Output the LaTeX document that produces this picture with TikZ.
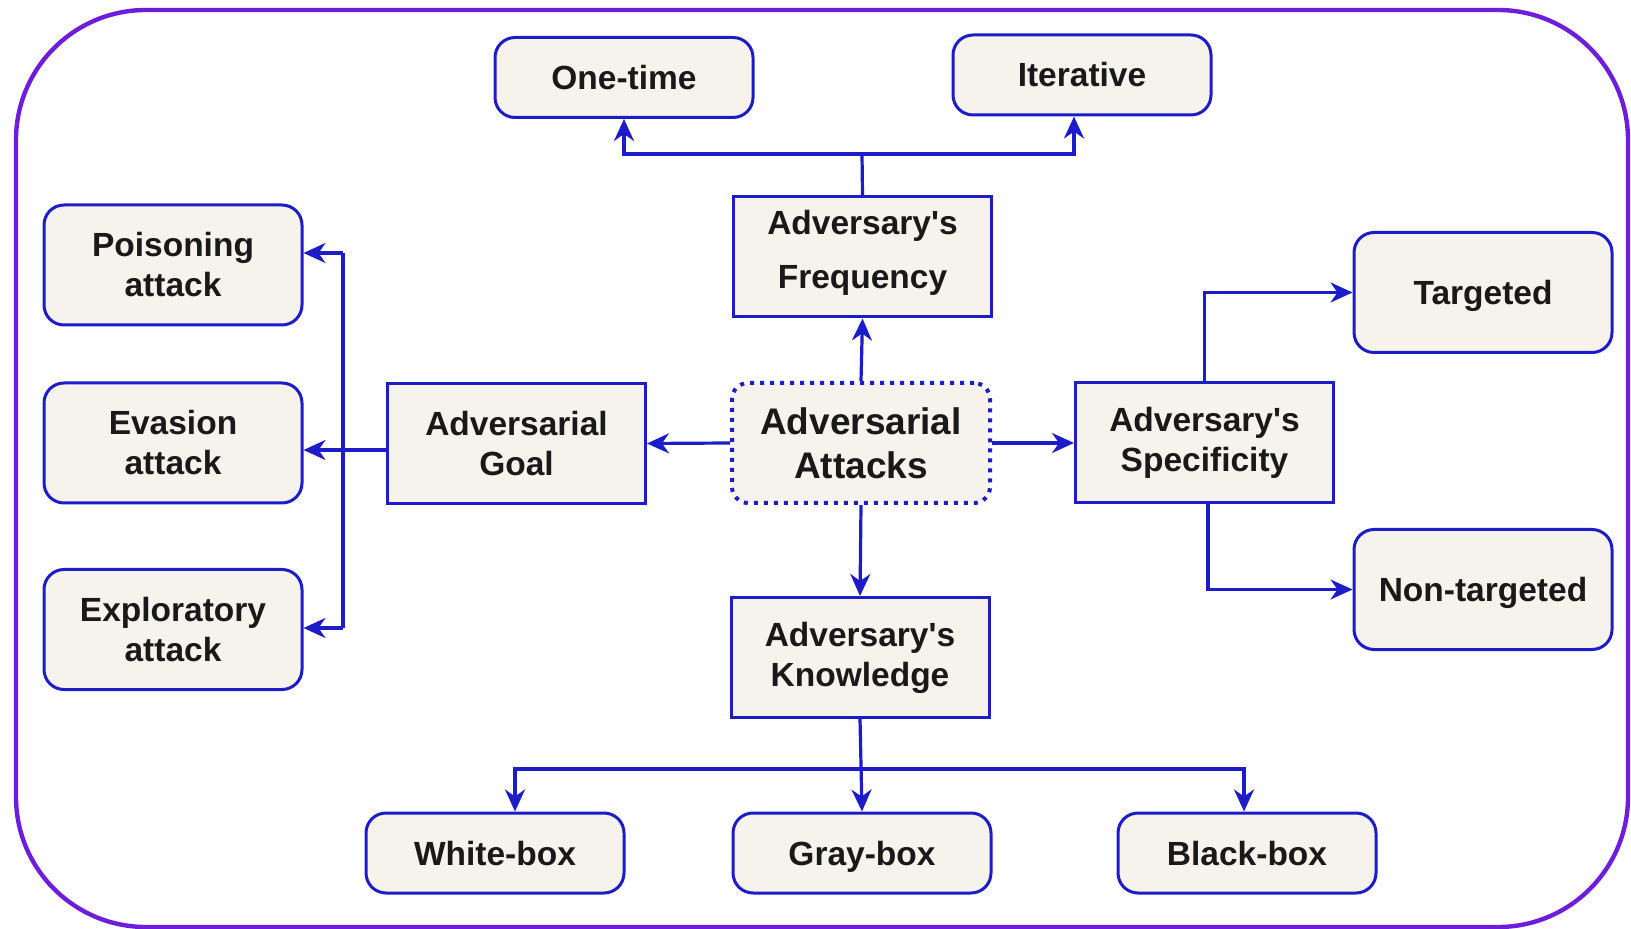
\documentclass[tikz,border=0pt]{standalone}
\usepackage{fontspec}
\setmainfont{Liberation Sans}
\usetikzlibrary{arrows.meta}
\definecolor{framecol}{RGB}{110,30,218}
\definecolor{edgecol}{RGB}{28,28,200}
\definecolor{boxfill}{RGB}{245,243,235}
\newcommand{\apos}{\textquotesingle}
\begin{document}
\begin{tikzpicture}[x=0.5pt,y=-0.5pt,
  base/.style={draw=edgecol, line width=1.5pt, fill=boxfill, align=center,
    font=\bfseries\fontsize{16.75}{20}\selectfont, text=black!90,
    inner sep=0pt, minimum width=129pt},
  big/.style={minimum height=60pt},
  small/.style={minimum height=40pt},
  oneline/.style={text height=12pt, text depth=0pt},
  rbox/.style={base, rounded corners=10pt},
  sbox/.style={base},
  hub/.style={base, rounded corners=8pt, line width=2pt, dash pattern=on 2pt off 3pt,
    font=\bfseries\fontsize{18.5}{22}\selectfont},
  caption/.style={align=center, font=\bfseries\fontsize{16.75}{27}\selectfont,
    text=black!90, inner sep=0pt},
  link/.style={draw=edgecol, line width=1.6pt},
  arr/.style={link, -{Stealth[length=11pt,width=10pt,inset=3.5pt]}}
]
\useasboundingbox (0,0) rectangle (1631,929);

% outer frame
\draw[framecol, line width=2.2pt, rounded corners=65pt] (16,10) rectangle (1628,927);

% central node
\node[hub, big] (attacks) at (861,443) {Adversarial\\Attacks};

% categories
\node[sbox, big] (freq) at (862.5,257) {};
\node[caption] (freqtext) at ([yshift=2pt]freq.center) {Adversary\apos s\\Frequency};
\node[sbox, big] (goal) at (516.5,443.5) {Adversarial\\Goal};
\node[sbox, big] (spec) at (1204.5,443) {Adversary\apos s\\Specificity};
\node[sbox, big] (know) at (860,657.5) {Adversary\apos s\\Knowledge};

% frequency leaves
\node[rbox, small, oneline] (once) at (624,77.5) {One-time};
\node[rbox, small, oneline] (iter) at (1082,75) {Iterative};

% goal leaves
\node[rbox, big] (poison) at (173,265) {Poisoning\\attack};
\node[rbox, big] (evasion) at (173,443) {Evasion\\attack};
\node[rbox, big] (explore) at (173,629.5) {Exploratory\\attack};

% specificity leaves
\node[rbox, big, oneline] (targ) at (1483,292.5) {Targeted};
\node[rbox, big, oneline] (nontarg) at (1483,589.5) {Non-targeted};

% knowledge leaves
\node[rbox, small, oneline] (white) at (495,853) {White-box};
\node[rbox, small, oneline] (gray) at (862,853) {Gray-box};
\node[rbox, small, oneline] (black) at (1247,853) {Black-box};

% hub to categories
\draw[arr] (attacks.north) -- (freq.south);
\draw[arr] (attacks.west) -- (goal.east);
\draw[arr] (attacks.east) -- (attacks.east -| spec.west);
\draw[arr] (attacks.south) -- (know.north);

% frequency branches
\coordinate (ffork) at (862,154);
\draw[link] (freq.north) -- (ffork);
\draw[arr] (ffork) -| (once.south);
\draw[arr] (ffork) -| ([xshift=-4pt]iter.south);

% goal branches
\coordinate (gtrunk) at (343,450);
\coordinate (gtop) at (343,253);
\coordinate (gbot) at (343,628);
\draw[link] ([yshift=-3.25pt]goal.west) -- (gtrunk);
\draw[link] (gtop) -- (gbot);
\draw[arr] (gtop) -- (gtop -| poison.east);
\draw[arr] (gtrunk) -- (gtrunk -| evasion.east);
\draw[arr] (gbot) -- (gbot -| explore.east);

% specificity branches
\draw[arr] (spec.north) |- (targ.west);
\draw[arr] ([xshift=1.75pt]spec.south) |- (nontarg.west);

% knowledge branches
\coordinate (kfork) at (860,769);
\draw[arr] (know.south) -- (gray.north);
\draw[arr] (kfork) -| ([xshift=10pt]white.north);
\draw[arr] (kfork) -| ([xshift=-1.5pt]black.north);
\end{tikzpicture}
\end{document}
